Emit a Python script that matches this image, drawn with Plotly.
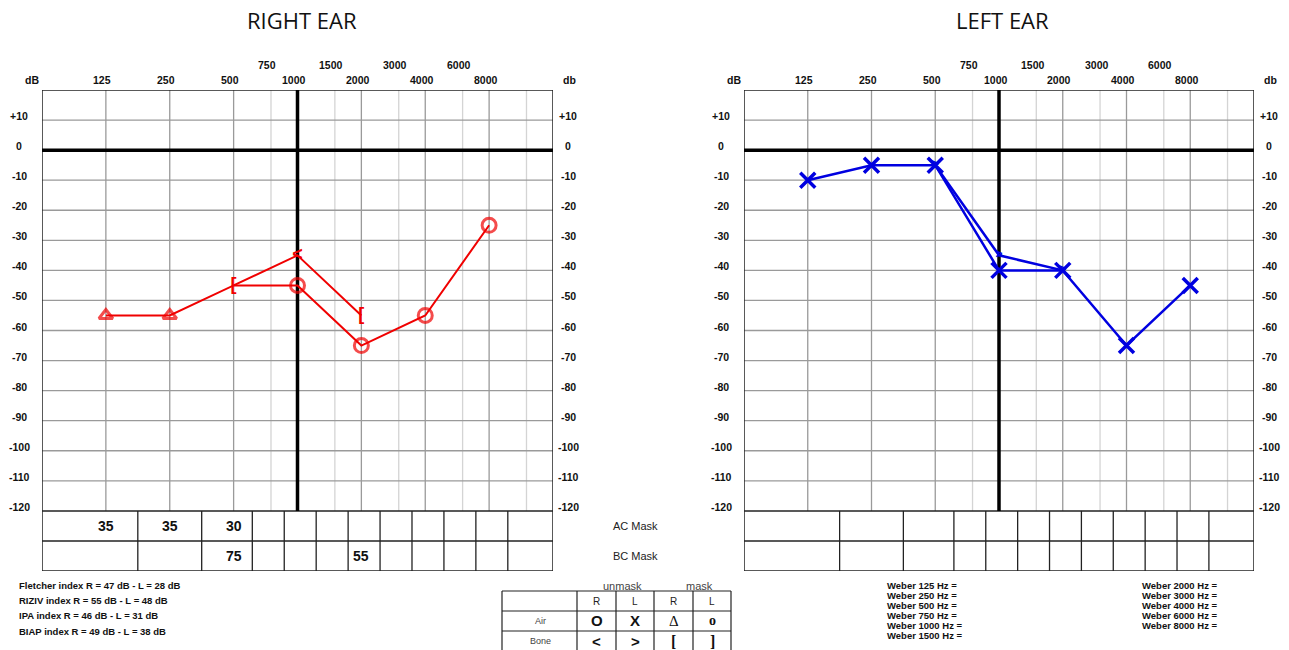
import math
import plotly.graph_objects as go

W, H = 1289, 650

# ---- data -------------------------------------------------------------
octave_freqs = [125, 250, 500, 2000, 4000, 8000]
half_octave_freqs = [750, 1500, 3000, 6000, 12000]
column_freqs = [125, 250, 500, 750, 1000, 1500, 2000, 3000, 4000, 6000, 8000, 12000]
top_row_labels = [750, 1500, 3000, 6000]
bottom_row_labels = [125, 250, 500, 1000, 2000, 4000, 8000]
db_ticks = list(range(10, -130, -10))

# right ear
right_air_freqs = [125, 250, 500, 1000, 2000, 4000, 8000]
right_air_db = [-55, -55, -45, -45, -65, -55, -25]
right_air_symbols = ["triangle-up-open", "triangle-up-open", "circle-open",
                     "circle-open", "circle-open", "circle-open", "circle-open"]
right_air_sizes = [12, 12, 0, 14, 14, 14, 14]
right_bone_freqs = [500, 1000, 2000]
right_bone_db = [-45, -35, -55]
right_bone_marks = ["[", "<", "["]

# left ear
left_air_freqs = [125, 250, 500, 1000, 2000, 4000, 8000]
left_air_db = [-10, -5, -5, -40, -40, -65, -45]
left_bone_freqs = [500, 1000, 2000]
left_bone_db = [-5, -35, -40]
left_bone_marks = [">", ">", ">"]

# masking levels (right ear)
ac_mask_freqs = [125, 250, 500]
ac_mask_values = [35, 35, 30]
bc_mask_freqs = [500, 2000]
bc_mask_values = [75, 55]

index_lines = [
    "Fletcher index R = 47 dB - L = 28 dB",
    "RIZIV index R = 55 dB - L = 48 dB",
    "IPA index R = 46 dB - L = 31 dB",
    "BIAP index R = 49 dB - L = 38 dB",
]
weber_left = ["Weber 125 Hz =", "Weber 250 Hz =", "Weber 500 Hz =",
              "Weber 750 Hz =", "Weber 1000 Hz =", "Weber 1500 Hz ="]
weber_right = ["Weber 2000 Hz =", "Weber 3000 Hz =", "Weber 4000 Hz =",
               "Weber 6000 Hz =", "Weber 8000 Hz ="]

# ---- geometry ---------------------------------------------------------
F_MIN, F_MAX = 62.5, 16000
DB_TOP, DB_GRID_BOTTOM, DB_TABLE_MID, DB_BOTTOM = 20, -120, -130, -140
PLOT_TOP_PX, PLOT_BOTTOM_PX = 90, 571

SANS = "Liberation Sans, Arial, sans-serif"
SERIF = "Liberation Serif, Times New Roman, serif"
RED = "#f00000"
BLUE = "#0000e0"
GRID = "#9a9a9a"
LIGHT = "#d4d4d4"


def px(x):
    return x / W


def py(y):
    return 1 - y / H


panels = [
    dict(xa="x", ya="y", left=42, right=553, title="RIGHT EAR", title_x=302),
    dict(xa="x2", ya="y2", left=744, right=1254, title="LEFT EAR", title_x=1002),
]

fig = go.Figure()
annotations = []


def label(text, x, y, xref="paper", yref="paper", size=10.5, family=SANS, weight="bold",
          color="#111", xanchor="center", **kw):
    annotations.append(dict(text=text, x=x, y=y, xref=xref, yref=yref, xanchor=xanchor,
                            yanchor="middle", showarrow=False,
                            font=dict(family=family, size=size, color=color, weight=weight), **kw))


def segments(pairs, color, width, xa, ya):
    xs, ys = [], []
    for (x0, y0), (x1, y1) in pairs:
        xs += [x0, x1, None]
        ys += [y0, y1, None]
    fig.add_trace(go.Scatter(x=xs, y=ys, mode="lines", xaxis=xa, yaxis=ya,
                             line=dict(color=color, width=width),
                             hoverinfo="skip", showlegend=False))


def geo_mid(a, b):
    return math.sqrt(a * b)


for p in panels:
    xa, ya = p["xa"], p["ya"]
    # grid
    segments([((f, DB_GRID_BOTTOM), (f, DB_TOP)) for f in half_octave_freqs], LIGHT, 1.3, xa, ya)
    segments([((f, DB_GRID_BOTTOM), (f, DB_TOP)) for f in octave_freqs], GRID, 1.3, xa, ya)
    segments([((F_MIN, d), (F_MAX, d)) for d in db_ticks if d not in (0, -120)], GRID, 1.3, xa, ya)
    # mask table columns
    bounds = [geo_mid(a, b) for a, b in zip(column_freqs[:-1], column_freqs[1:])]
    segments([((b, DB_BOTTOM), (b, DB_GRID_BOTTOM)) for b in bounds], "#222", 1.3, xa, ya)
    # frame and table rows
    segments([((F_MIN, DB_TOP), (F_MAX, DB_TOP)), ((F_MIN, DB_BOTTOM), (F_MAX, DB_BOTTOM)),
              ((F_MIN, DB_BOTTOM), (F_MIN, DB_TOP)), ((F_MAX, DB_BOTTOM), (F_MAX, DB_TOP)),
              ((F_MIN, DB_GRID_BOTTOM), (F_MAX, DB_GRID_BOTTOM)),
              ((F_MIN, DB_TABLE_MID), (F_MAX, DB_TABLE_MID))], "#222", 1.5, xa, ya)
    # reference lines: 0 dB and 1000 Hz
    segments([((F_MIN, 0), (F_MAX, 0)), ((1000, DB_GRID_BOTTOM), (1000, DB_TOP))], "#000", 3.5, xa, ya)

    # frequency labels
    for f in bottom_row_labels:
        label(str(f), math.log10(f), py(80), xref=xa, xshift=-3.5)
    for f in top_row_labels:
        label(str(f), math.log10(f), py(65), xref=xa, xshift=-3.5)
    label("dB", px(p["left"] - 10), py(80))
    label("db", px(p["right"] + 16), py(80))
    # level labels on both sides
    for d in db_ticks:
        lab = "+%d" % d if d > 0 else str(d)
        for xpos in (p["left"] - 23, p["right"] + 15):
            label(lab, px(xpos), d, yref=ya, yshift=4)
    # title
    label(p["title"], px(p["title_x"]), py(20), size=22, family="Open Sans, sans-serif",
          weight="normal")

# ---- right ear data ---------------------------------------------------
fig.add_trace(go.Scatter(x=right_bone_freqs, y=right_bone_db, mode="lines+text",
                         text=right_bone_marks, textposition="middle center",
                         textfont=dict(family=SANS, size=18, color=RED, weight="bold"),
                         line=dict(color=RED, width=2), xaxis="x", yaxis="y",
                         hoverinfo="skip", showlegend=False))
fig.add_trace(go.Scatter(x=right_air_freqs, y=right_air_db, mode="lines+markers",
                         marker=dict(symbol=right_air_symbols, size=right_air_sizes, color=RED,
                                     line=dict(color=RED, width=3)),
                         line=dict(color=RED, width=2), xaxis="x", yaxis="y",
                         hoverinfo="skip", showlegend=False))

# ---- left ear data ----------------------------------------------------
fig.add_trace(go.Scatter(x=left_bone_freqs, y=left_bone_db, mode="lines+text",
                         text=left_bone_marks, textposition="middle center",
                         textfont=dict(family=SANS, size=12, color=BLUE, weight="bold"),
                         line=dict(color=BLUE, width=2.5), xaxis="x2", yaxis="y2",
                         hoverinfo="skip", showlegend=False))
fig.add_trace(go.Scatter(x=left_air_freqs, y=left_air_db, mode="lines+markers",
                         marker=dict(symbol="x-thin-open", size=15, color=BLUE,
                                     line=dict(color=BLUE, width=3.5)),
                         line=dict(color=BLUE, width=2.5), xaxis="x2", yaxis="y2",
                         hoverinfo="skip", showlegend=False))

# ---- masking values ---------------------------------------------------
for f, v in zip(ac_mask_freqs, ac_mask_values):
    label(str(v), math.log10(f), -125, xref="x", yref="y", size=14)
for f, v in zip(bc_mask_freqs, bc_mask_values):
    label(str(v), math.log10(f), -135, xref="x", yref="y", size=14)
label("AC Mask", px(635), -125, yref="y", size=11, weight="normal", color="#222")
label("BC Mask", px(635), -135, yref="y", size=11, weight="normal", color="#222")

# ---- indices and Weber notes -----------------------------------------
for i, t in enumerate(index_lines):
    label(t, px(17), py(585.5 + 15.2 * i), size=9.5, xanchor="left")
for col_x, lines in ((885, weber_left), (1140, weber_right)):
    for i, t in enumerate(lines):
        label(t, px(col_x), py(585 + 10 * i), size=9.5, xanchor="left")

# ---- symbol key -------------------------------------------------------
key_cols = [502, 577, 616, 654, 693, 731]
key_rows = [591, 611, 631, 651]
shapes = []
for x in key_cols:
    shapes.append(dict(type="line", xref="paper", yref="paper", x0=px(x), x1=px(x),
                       y0=py(key_rows[0]), y1=py(key_rows[-1]), line=dict(color="#222", width=1.2)))
for y in key_rows:
    shapes.append(dict(type="line", xref="paper", yref="paper", x0=px(key_cols[0]), x1=px(key_cols[-1]),
                       y0=py(y), y1=py(y), line=dict(color="#222", width=1.2)))

key_headers = ["R", "L", "R", "L"]
key_air = [("O", SANS, "bold", 15), ("X", SANS, "bold", 15), ("\u0394", SERIF, "normal", 15),
           ("o", SERIF, "bold", 14)]
key_bone = [("<", SANS, "bold", 15), (">", SANS, "bold", 15), ("[", SERIF, "bold", 16),
            ("]", SERIF, "bold", 16)]
centers = [(a + b) / 2 for a, b in zip(key_cols[1:-1], key_cols[2:])]
for cx, h in zip(centers, key_headers):
    label(h, px(cx), py(601.5), size=10, weight="normal", color="#222")
for cx, (t, fam, wgt, sz) in zip(centers, key_air):
    label(t, px(cx), py(620.5), size=sz, family=fam, weight=wgt)
for cx, (t, fam, wgt, sz) in zip(centers, key_bone):
    label(t, px(cx), py(641), size=sz, family=fam, weight=wgt)
label("Air", px(540), py(620.5), size=9, family="Liberation Sans Narrow, " + SANS,
      weight="normal", color="#444")
label("Bone", px(540), py(641), size=9, family="Liberation Sans Narrow, " + SANS,
      weight="normal", color="#444")
label("unmask", px(622), py(586), size=11, weight="normal", color="#444")
label("mask", px(699), py(586), size=11, weight="normal", color="#444")

# ---- axes -------------------------------------------------------------
hidden = dict(showgrid=False, zeroline=False, showticklabels=False, showline=False, ticks="")
y_dom = [py(PLOT_BOTTOM_PX), py(PLOT_TOP_PX)]
fig.update_layout(
    width=W, height=H, margin=dict(l=0, r=0, t=0, b=0),
    paper_bgcolor="white", plot_bgcolor="white",
    xaxis=dict(type="log", range=[math.log10(F_MIN), math.log10(F_MAX)],
               domain=[px(panels[0]["left"]), px(panels[0]["right"])], anchor="y", **hidden),
    yaxis=dict(range=[DB_BOTTOM, DB_TOP], domain=y_dom, anchor="x", **hidden),
    xaxis2=dict(type="log", range=[math.log10(F_MIN), math.log10(F_MAX)],
                domain=[px(panels[1]["left"]), px(panels[1]["right"])], anchor="y2", **hidden),
    yaxis2=dict(range=[DB_BOTTOM, DB_TOP], domain=y_dom, anchor="x2", **hidden),
    annotations=annotations, shapes=shapes,
)

fig.write_html("out.html")
